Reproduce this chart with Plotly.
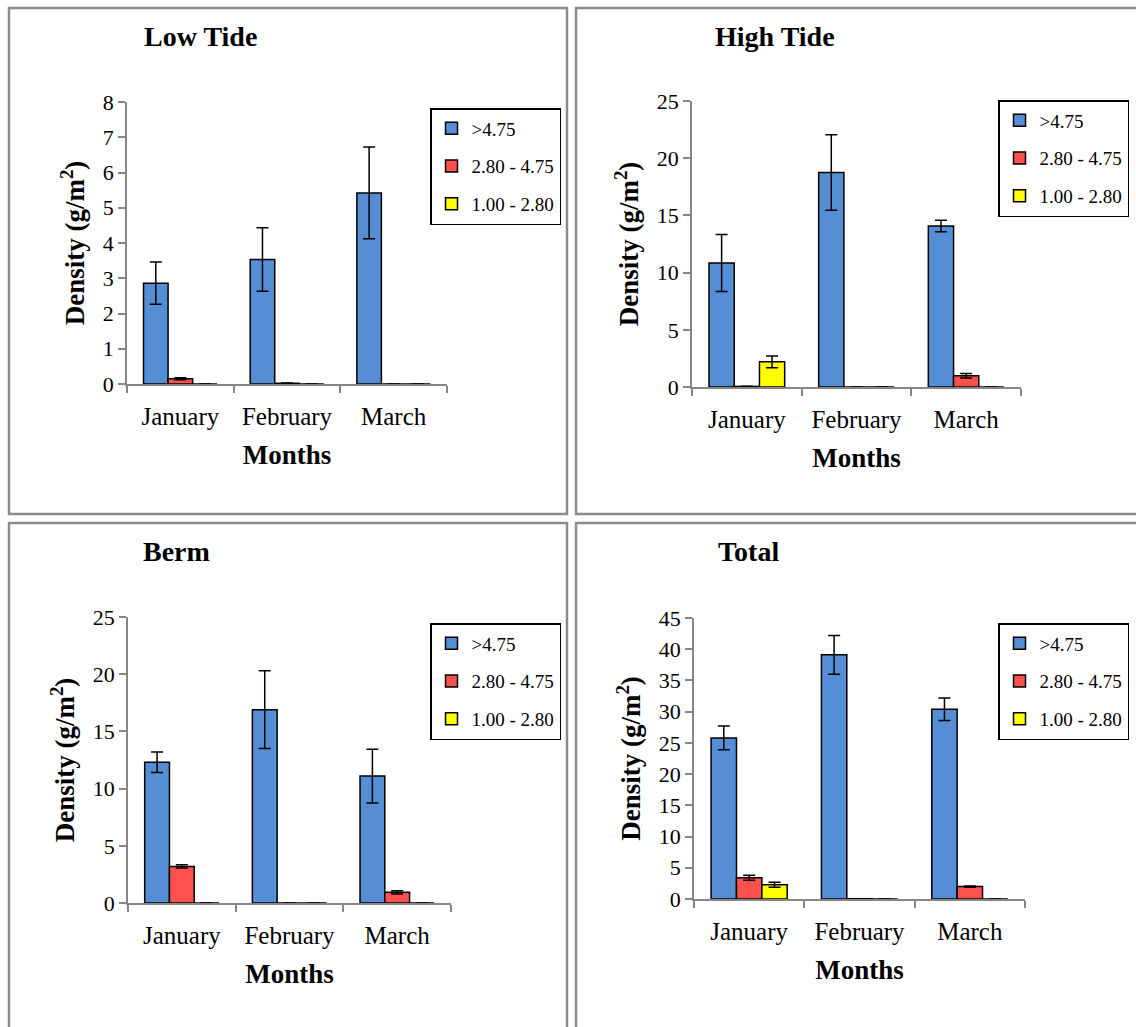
import plotly.graph_objects as go

# ---- data -----------------------------------------------------------------
months = ["January", "February", "March"]
size_classes = [">4.75", "2.80 - 4.75", "1.00 - 2.80"]

low_tide = [[2.86, 3.53, 5.42], [0.15, 0.02, 0.0], [0.0, 0.0, 0.0]]
low_tide_err = [[0.6, 0.9, 1.3], [0.03, 0.01, None], [None, None, None]]

high_tide = [[10.84, 18.75, 14.07], [0.05, 0.0, 0.99], [2.2, 0.0, 0.0]]
high_tide_err = [[2.5, 3.3, 0.5], [0.02, None, 0.2], [0.52, None, None]]

berm = [[12.3, 16.9, 11.1], [3.2, 0.0, 0.93], [0.0, 0.0, 0.0]]
berm_err = [[0.9, 3.4, 2.35], [0.15, None, 0.15], [None, None, None]]

total = [[25.8, 39.1, 30.4], [3.4, 0.05, 2.0], [2.3, 0.0, 0.0]]
total_err = [[1.9, 3.1, 1.8], [0.4, None, 0.1], [0.4, None, None]]

panel_titles = ["Low Tide", "High Tide", "Berm", "Total"]
y_ranges = [8, 25, 25, 45]
y_steps = [1, 5, 5, 5]

# ---- styling --------------------------------------------------------------
W, H = 1136, 1027
SERIF = "Times New Roman, Liberation Serif, serif"
colors = ["#558ED5", "#FF5050", "#FFFF00"]
AXIS_GRAY = "#868686"


def px(x):
    return x / W


def py(y):
    return 1 - y / H


# plot areas in pixels: (x0, x1, y_top, y_bottom)
areas = [(127, 447, 102, 384), (692, 1021, 101, 387),
         (128, 451, 617, 903), (694, 1025, 618, 899)]
# panel frames in pixels: (x0, y0, x1, y1)
frames = [(9, 8, 567, 514), (576, 8, 1142, 514),
          (9, 523, 567, 1035), (576, 523, 1142, 1035)]
# panel title centres
title_pos = [(201, 36), (775, 36), (177, 551), (748, 551)]
# legend top-left corners
legend_pos = [(430, 108), (998, 100), (430, 623), (998, 623)]

series = [(low_tide, low_tide_err), (high_tide, high_tide_err),
          (berm, berm_err), (total, total_err)]

fig = go.Figure()
layout = dict(
    width=W, height=H,
    margin=dict(l=0, r=0, t=0, b=0, autoexpand=False),
    paper_bgcolor="white", plot_bgcolor="white",
    barmode="group", bargap=0.31, bargroupgap=0.0,
    font=dict(family=SERIF, color="black"),
    shapes=[], annotations=[],
)

for p, ((vals, errs), area) in enumerate(zip(series, areas)):
    n = p + 1
    xa = "x" if n == 1 else f"x{n}"
    ya = "y" if n == 1 else f"y{n}"
    leg = "legend" if n == 1 else f"legend{n}"
    for s in range(3):
        fig.add_trace(go.Bar(
            x=months, y=vals[s], name=size_classes[s],
            xaxis=xa, yaxis=ya, legend=leg,
            legendgroup=f"p{n}s{s}",
            marker=dict(color=colors[s], line=dict(color="black", width=1.5)),
            error_y=dict(type="data", array=errs[s], visible=True,
                         color="black", thickness=1.5, width=6),
        ))

    x0, x1, yt, yb = area
    layout[f"xaxis{'' if n == 1 else n}"] = dict(
        domain=[px(x0), px(x1)], anchor=ya,
        type="category", tickson="boundaries",
        ticks="outside", ticklen=7, tickwidth=1.5, tickcolor=AXIS_GRAY,
        ticklabelstandoff=9,
        showline=True, linecolor=AXIS_GRAY, linewidth=1.5,
        showgrid=False, zeroline=False,
        tickfont=dict(family=SERIF, size=25, color="black"),
        title=dict(text="<b>Months</b>", standoff=16,
                   font=dict(family=SERIF, size=27, color="black")),
        fixedrange=True,
    )
    layout[f"yaxis{'' if n == 1 else n}"] = dict(
        domain=[py(yb), py(yt)], anchor=xa,
        range=[0, y_ranges[p]], dtick=y_steps[p], tick0=0,
        ticks="outside", ticklen=7, tickwidth=1.5, tickcolor=AXIS_GRAY,
        showline=True, linecolor=AXIS_GRAY, linewidth=1.5,
        showgrid=False, zeroline=False,
        tickfont=dict(family=SERIF, size=22, color="black"),
        title=dict(text="<b>Density (g/m<sup>2</sup>)</b>", standoff=10,
                   font=dict(family=SERIF, size=27, color="black")),
        fixedrange=True,
    )

    lx, ly = legend_pos[p]
    layout[leg] = dict(
        x=px(lx), y=py(ly), xanchor="left", yanchor="top",
        bgcolor="white", bordercolor="black", borderwidth=1.5,
        font=dict(family=SERIF, size=19, color="black"),
        traceorder="grouped", tracegroupgap=10, itemwidth=30,
    )

    fx0, fy0, fx1, fy1 = frames[p]
    layout["shapes"].append(dict(
        type="rect", xref="paper", yref="paper",
        x0=px(fx0), x1=px(fx1), y0=py(fy1), y1=py(fy0),
        line=dict(color="#8c8c8c", width=2.5), fillcolor="rgba(0,0,0,0)",
        layer="below",
    ))

    tx, ty = title_pos[p]
    layout["annotations"].append(dict(
        text=f"<b>{panel_titles[p]}</b>", xref="paper", yref="paper",
        x=px(tx), y=py(ty), xanchor="center", yanchor="middle",
        showarrow=False, font=dict(family=SERIF, size=28, color="black"),
    ))

fig.update_layout(**layout)
fig.write_html("out.html")
